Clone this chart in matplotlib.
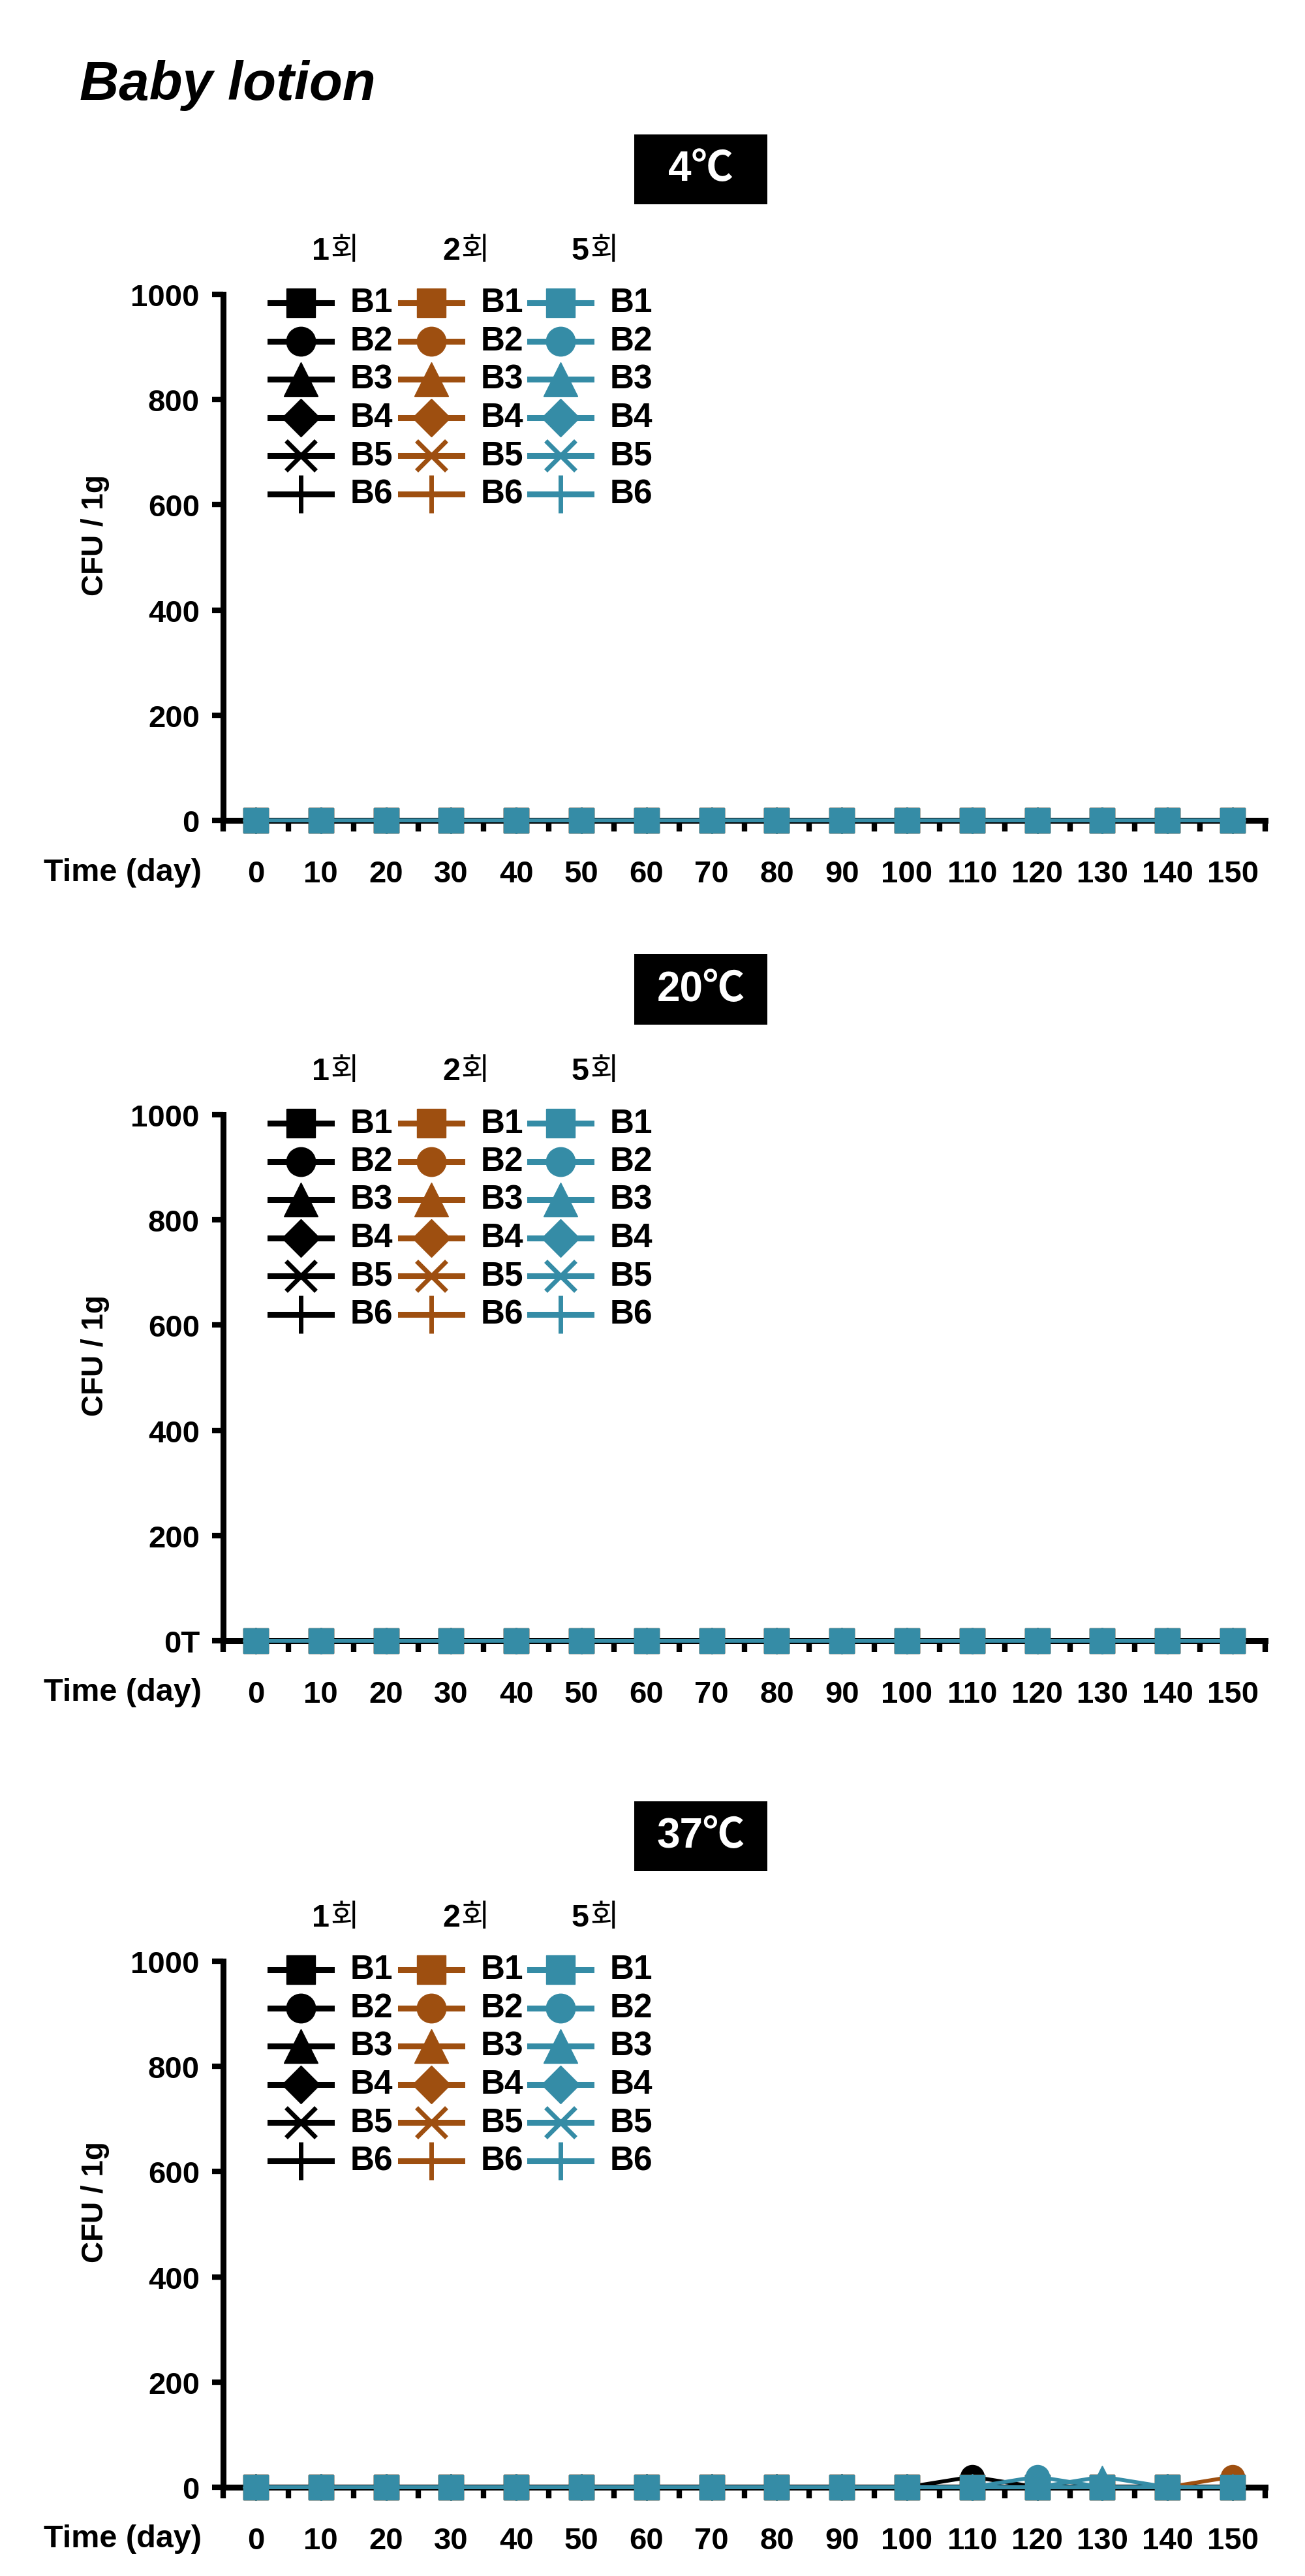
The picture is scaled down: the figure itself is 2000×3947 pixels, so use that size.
import matplotlib
matplotlib.use("Agg")
import matplotlib.pyplot as plt
from matplotlib.patches import Rectangle
from matplotlib.lines import Line2D

# ---------------- data ----------------
days = [0, 10, 20, 30, 40, 50, 60, 70, 80, 90, 100, 110, 120, 130, 140, 150]
samples = ["B1", "B2", "B3", "B4", "B5", "B6"]
repeats = ["1", "2", "5"]          # 1회, 2회, 5회
temps = ["4℃", "20℃", "37℃"]
y_ticks = [0, 200, 400, 600, 800, 1000]
y_ticklabels_4 = ["0", "200", "400", "600", "800", "1000"]
y_ticklabels_20 = ["0T", "200", "400", "600", "800", "1000"]
y_ticklabels_37 = ["0", "200", "400", "600", "800", "1000"]
x_ticklabels = ["0", "10", "20", "30", "40", "50", "60", "70", "80", "90",
                "100", "110", "120", "130", "140", "150"]

zero = [0, 0, 0, 0, 0, 0, 0, 0, 0, 0, 0, 0, 0, 0, 0, 0]

# 4 °C: all samples below detection
cfu_4 = {
    "1": [zero, zero, zero, zero, zero, zero],
    "2": [zero, zero, zero, zero, zero, zero],
    "5": [zero, zero, zero, zero, zero, zero],
}
# 20 °C
cfu_20 = {
    "1": [zero, zero, zero, zero, zero, zero],
    "2": [zero, zero, zero, zero, zero, zero],
    "5": [zero, zero, zero, zero, zero, zero],
}
# 37 °C
r1_B2_37 = [0, 0, 0, 0, 0, 0, 0, 0, 0, 0, 0, 20, 0, 0, 0, 0]
r2_B2_37 = [0, 0, 0, 0, 0, 0, 0, 0, 0, 0, 0, 0, 0, 0, 0, 20]
r5_B2_37 = [0, 0, 0, 0, 0, 0, 0, 0, 0, 0, 0, 0, 20, 0, 0, 0]
r5_B3_37 = [0, 0, 0, 0, 0, 0, 0, 0, 0, 0, 0, 0, 0, 20, 0, 0]
cfu_37 = {
    "1": [zero, r1_B2_37, zero, zero, zero, zero],
    "2": [zero, r2_B2_37, zero, zero, zero, zero],
    "5": [zero, r5_B2_37, r5_B3_37, zero, zero, zero],
}
panels = [(temps[0], cfu_4, y_ticklabels_4),
          (temps[1], cfu_20, y_ticklabels_20),
          (temps[2], cfu_37, y_ticklabels_37)]

# ---------------- style ----------------
colors = {"1": "#000000", "2": "#9E4F10", "5": "#358CA6"}
markers = ["s", "o", "^", "D", "x", "+"]
leg_ms = [32, 32, 38, 30, 33, 42]
dat_ms = [27, 26, 24, 20, 24, 26]
FONT = "Liberation Sans"
KFONT = "Noto Sans CJK KR"
plt.rcParams["font.family"] = [FONT, "DejaVu Sans"]

W, H = 2000, 3948
DPI = 100
fig = plt.figure(figsize=(W / DPI, H / DPI), dpi=DPI)


def fx(px):
    return px / W


def fy(py):
    return 1 - py / H


fig.text(fx(122), fy(153), "Baby lotion", fontsize=60, fontweight="bold",
         fontstyle="italic", va="baseline", ha="left")

ax_left, ax_right = 342, 1939
ax_h = 806
tops = [452, 1709, 3006]
tick_fs = 34
leg_fs = 37

for (temp, data, ylabels), top in zip(panels, tops):
    bottom = top + ax_h
    ax = fig.add_axes([fx(ax_left), fy(bottom), fx(ax_right) - fx(ax_left), ax_h / H])
    ax.set_xlim(-5, 155)
    ax.set_ylim(0, 1000)
    for s in ["top", "right"]:
        ax.spines[s].set_visible(False)
    for s in ["left", "bottom"]:
        ax.spines[s].set_linewidth(6.5)
        ax.spines[s].set_capstyle("projecting")

    # data (square drawn last within each group)
    z = 3
    for rep in repeats:
        for i in reversed(range(len(samples))):
            ax.plot(days, data[rep][i], color=colors[rep], lw=4.3,
                    marker=markers[i], ms=dat_ms[i],
                    mew=5 if markers[i] in ("x", "+") else 1,
                    clip_on=False, zorder=z)
            z += 1

    # x axis: labels at 0..150, tick marks between
    ax.set_xticks(days)
    ax.set_xticklabels(x_ticklabels, fontsize=tick_fs, fontweight="bold")
    ax.set_xticks([d - 5 for d in days] + [155], minor=True)
    ax.tick_params(axis="x", which="major", length=0, pad=43)
    ax.tick_params(axis="x", which="minor", length=12, width=6, direction="out")
    # y axis
    ax.set_yticks(y_ticks)
    ax.set_yticklabels(ylabels, fontsize=tick_fs, fontweight="bold")
    ax.tick_params(axis="y", which="major", length=12, width=6, direction="out", pad=14)

    # y label
    fig.text(fx(146), fy(top + 368), "CFU / 1g", rotation=90, fontsize=33,
             fontweight="bold", ha="center", va="center")
    # x label at left of tick labels
    fig.text(fx(309), fy(bottom + 79), "Time (day)", fontsize=35,
             fontweight="bold", ha="right", va="center")

    # temperature box
    bw, bh = 204, 107
    bcx, bcy = 1074, top - 192
    fig.patches.append(Rectangle((fx(bcx - bw / 2), fy(bcy + bh / 2)), bw / W, bh / H,
                                 transform=fig.transFigure, facecolor="black",
                                 edgecolor="none"))
    fig.text(fx(bcx), fy(bcy), temp, color="white", fontsize=46, fontweight="bold",
             ha="center", va="center", family=[FONT, KFONT])

    # legend
    xcs = [461, 661, 859]
    for gi, rep in enumerate(repeats):
        xc = xcs[gi]
        hy = top - 66
        fig.text(fx(xc + 44), fy(hy), rep, fontsize=35, fontweight="bold",
                 ha="right", va="center")
        fig.text(fx(xc + 45), fy(hy - 2), "회", fontsize=34, fontweight="normal",
                 ha="left", va="center", family=[KFONT])
        for i, sname in enumerate(samples):
            yy = top + 13 + 58.6 * i
            ln = Line2D([fx(xc - 47), fx(xc + 47)], [fy(yy), fy(yy)],
                        transform=fig.transFigure, color=colors[rep], lw=6.5)
            fig.lines.append(ln)
            mk = Line2D([fx(xc)], [fy(yy)], transform=fig.transFigure,
                        color=colors[rep], marker=markers[i], ms=leg_ms[i],
                        mew=5 if markers[i] in ("x", "+") else 1, lw=0)
            fig.lines.append(mk)
            fig.text(fx(xc + 76), fy(yy), sname, fontsize=leg_fs, fontweight="bold",
                     ha="left", va="center")

fig.savefig("out.png", dpi=DPI)
